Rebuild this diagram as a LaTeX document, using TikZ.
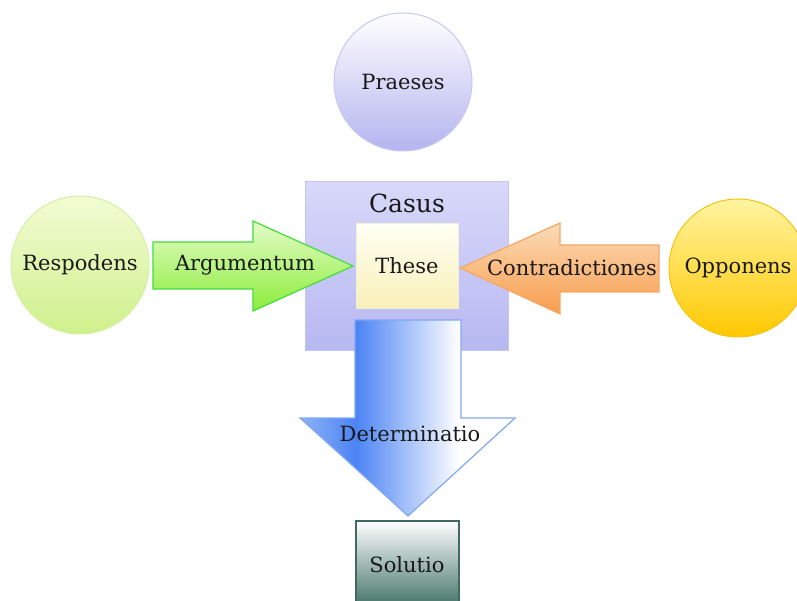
\documentclass[tikz,border=0pt]{standalone}
\usepackage{fontspec}
\setmainfont{DejaVu Serif}
\definecolor{blleft}{HTML}{4C84F4}
\definecolor{bllight}{HTML}{8EB2F6}
\pgfdeclarehorizontalshading{detshade}{100bp}{color(0bp)=(bllight); color(25bp)=(bllight); color(38bp)=(blleft); color(62bp)=(white); color(100bp)=(white)}
\begin{document}
\begin{tikzpicture}[x=1pt,y=-1pt,
  lbl/.style={font=\fontsize{21}{24}\selectfont, text=black!90, inner sep=0pt},
  ball/.style={circle, minimum size=138pt, inner sep=0pt, line width=1pt, font=\fontsize{21}{24}\selectfont, text=black!90},
  blockarrow/.style={line width=1.2pt, line join=miter}]
\definecolor{lavtop}{HTML}{FFFFFF}
\definecolor{lavbot}{HTML}{B4B4F0}
\definecolor{lavline}{HTML}{C8C8F4}
\definecolor{grtop}{HTML}{F2FCD4}
\definecolor{grbot}{HTML}{D0F08C}
\definecolor{grline}{HTML}{D4F2A4}
\definecolor{argtop}{HTML}{E4FCC8}
\definecolor{argbot}{HTML}{8CEC3C}
\definecolor{argline}{HTML}{44DC3C}
\definecolor{ortop}{HTML}{FCDCB8}
\definecolor{orbot}{HTML}{F89C4C}
\definecolor{orline}{HTML}{F4A868}
\definecolor{yetop}{HTML}{FFF4A0}
\definecolor{yebot}{HTML}{FFC800}
\definecolor{yeline}{HTML}{F4C410}
\definecolor{castop}{HTML}{D8D8FA}
\definecolor{casbot}{HTML}{B8B8F2}
\definecolor{casline}{HTML}{C4C4F6}
\definecolor{thtop}{HTML}{FFFFF4}
\definecolor{thbot}{HTML}{F8F0B8}
\definecolor{thline}{HTML}{F0F0DC}
\definecolor{blline}{HTML}{80A8F0}
\definecolor{soltop}{HTML}{FFFFFF}
\definecolor{solbot}{HTML}{447468}
\definecolor{solline}{HTML}{406A60}
\useasboundingbox (0,0) rectangle (797,601);
\fill[white] (0,0) rectangle (797,601);
% Praeses
\node[ball, draw=lavline, top color=lavtop, bottom color=lavbot] (praeses) at (403,82) {Praeses};
% Casus box
\node[draw=casline, line width=1pt, top color=castop, bottom color=casbot, minimum width=203pt, minimum height=168pt, inner sep=0pt] (casus) at (407,266) {};
\node[lbl, font=\fontsize{25}{28}\selectfont] (casuslbl) at (407,203) {Casus};
% These
\node[draw=thline, line width=1pt, top color=thtop, bottom color=thbot, minimum width=102pt, minimum height=85pt, inner sep=0pt, lbl] (these) at (407,266) {These};
% Respodens
\node[ball, draw=grline, top color=grtop, bottom color=grbot] (respodens) at (80,265) {Respodens};
% Opponens
\node[ball, draw=yeline, top color=yetop, bottom color=yebot] (opponens) at (738,268) {Opponens};
% Argumentum arrow
\draw[blockarrow, draw=argline, top color=argtop, bottom color=argbot]
  (153,242) -- (253,242) -- (253,221) -- (353,266) -- (253,311) -- (253,289) -- (153,289) -- cycle;
\node[lbl] (argumentum) at (245,265) {Argumentum};
% Contradictiones arrow
\draw[blockarrow, draw=orline, top color=ortop, bottom color=orbot]
  (659,245) -- (560,245) -- (560,223) -- (460,268) -- (560,314) -- (560,292) -- (659,292) -- cycle;
\node[lbl] (contra) at (572,268) {Contradictiones};
% Determinatio arrow
\draw[blockarrow, draw=blline, shading=detshade]
  (355,320) -- (461,320) -- (461,418) -- (515,418) -- (408,516) -- (300,418) -- (355,418) -- cycle;
\node[lbl] (determinatio) at (410,434) {Determinatio};
% Solutio
\draw[draw=solline, line width=1.2pt, top color=soltop, bottom color=solbot] (356,521) rectangle (459,606);
\node[lbl] (solutio) at (407,565) {Solutio};
\end{tikzpicture}
\end{document}
